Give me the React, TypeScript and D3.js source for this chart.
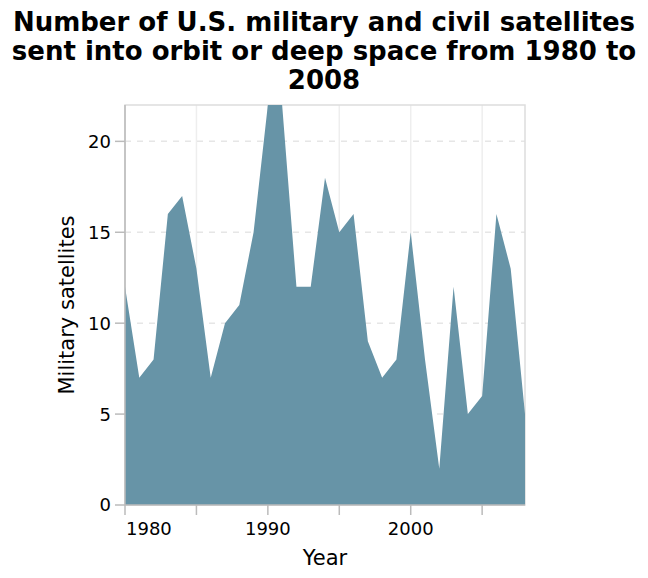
import React from "react";
import * as d3 from "d3";

const years = [1980,1981,1982,1983,1984,1985,1986,1987,1988,1989,1990,1991,1992,1993,1994,1995,1996,1997,1998,1999,2000,2001,2002,2003,2004,2005,2006,2007,2008];
const satellites = [12,7,8,16,17,13,7,10,11,15,22,22,12,12,18,15,16,9,7,8,15,8,2,12,5,6,16,13,5];
const xTicks = [1980,1985,1990,1995,2000,2005];
const xLabels = ["1980","","1990","","2000",""];
const yTicks = [0,5,10,15,20];
const titleLines = ["Number of U.S. military and civil satellites","sent into orbit or deep space from 1980 to","2008"];

const W = 648, H = 578;
const L = 125, R = 525, T = 105, B = 505;
const FONT = "'DejaVu Sans', Verdana, sans-serif";

export default function App() {
  const x = d3.scaleLinear().domain([1980, 2008]).range([L, R]);
  const y = d3.scaleLinear().domain([0, 22]).range([B, T]);
  const data = years.map((yr, i) => ({ yr, v: satellites[i] }));
  const area = d3.area<{ yr: number; v: number }>()
    .x(d => x(d.yr))
    .y0(y(0))
    .y1(d => y(d.v));
  const fill = "#6794a7";
  return (
    <svg width={W} height={H} style={{ position: "absolute", left: 0, top: 0, background: "#fff" }} fontFamily={FONT}>
      <defs>
        <clipPath id="plotclip"><rect x={L} y={T} width={R - L} height={B - T} /></clipPath>
      </defs>
      {titleLines.map((t, i) => (
        <text key={i} x={W / 2} y={30.7 + i * 29.3} textAnchor="middle" fontSize={26} fontWeight="bold" fill="#000">{t}</text>
      ))}
      {/* grid */}
      {xTicks.map(t => (
        <line key={"gx" + t} x1={x(t)} x2={x(t)} y1={T} y2={B} stroke="#eeeeee" strokeWidth={1.5} />
      ))}
      {yTicks.filter(t => t > 0).map(t => (
        <line key={"gy" + t} x1={L} x2={R} y1={y(t)} y2={y(t)} stroke="#e6e6e6" strokeWidth={1.5} strokeDasharray="6,6" />
      ))}
      {/* view border */}
      <rect x={L} y={T} width={R - L} height={B - T} fill="none" stroke="#dddddd" strokeWidth={1.5} />
      <path d={area(data) || ""} fill={fill} clipPath="url(#plotclip)" />
      {/* y axis */}
      <line x1={L} x2={L} y1={T} y2={B} stroke="#bbbbbb" strokeWidth={1.5} />
      {yTicks.map(t => (
        <g key={"yt" + t}>
          <line x1={L - 10} x2={L} y1={y(t)} y2={y(t)} stroke="#bbbbbb" strokeWidth={1.5} />
          <text x={L - 14} y={y(t)} dy="0.36em" textAnchor="end" fontSize={18} fill="#000">{t}</text>
        </g>
      ))}
      {/* x axis */}
      <line x1={L} x2={R} y1={B} y2={B} stroke="#bbbbbb" strokeWidth={1.5} />
      {xTicks.map((t, i) => (
        <g key={"xt" + t}>
          <line x1={x(t)} x2={x(t)} y1={B} y2={B + 10} stroke="#bbbbbb" strokeWidth={1.5} />
          {xLabels[i] && (
            <text x={i === 0 ? x(t) + 1 : x(t)} y={535} textAnchor={i === 0 ? "start" : "middle"} fontSize={18} fill="#000">{xLabels[i]}</text>
          )}
        </g>
      ))}
      <text x={(L + R) / 2} y={565} textAnchor="middle" fontSize={21} fill="#000">Year</text>
      <text transform={`translate(74, ${(T + B) / 2}) rotate(-90)`} textAnchor="middle" fontSize={21} fill="#000">Military satellites</text>
    </svg>
  );
}
